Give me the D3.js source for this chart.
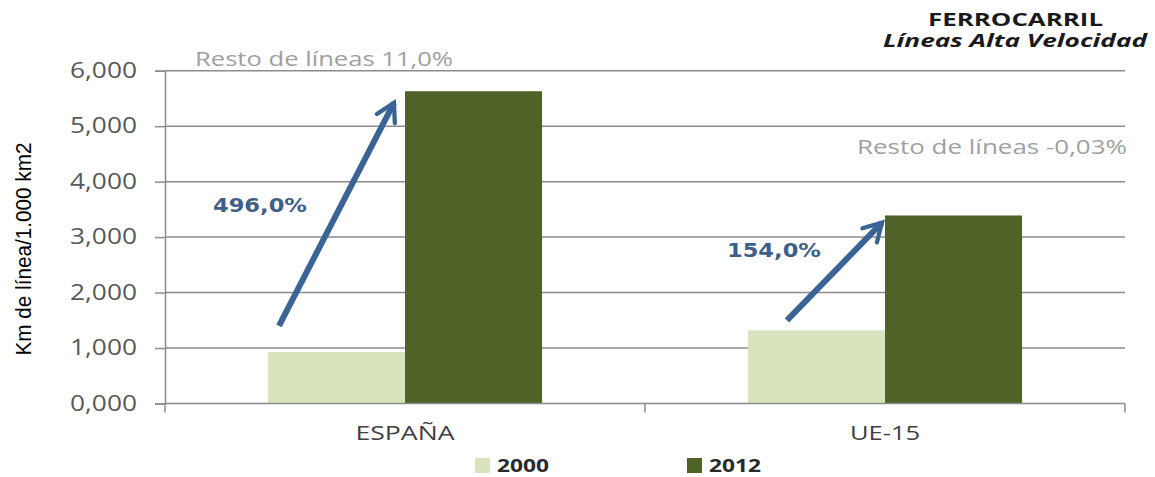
<!DOCTYPE html>
<html>
<head>
<meta charset="utf-8">
<script src="https://cdn.jsdelivr.net/npm/d3@7"></script>
<style>
  html, body { margin: 0; padding: 0; background: #fff; }
  svg { display: block; }
</style>
</head>
<body>
<div id="chart"></div>
<script>
// data (Km de línea / 1.000 km2)
const categories = ['ESPAÑA', 'UE-15'];
const years = ['2000', '2012'];
const values2000 = [0.93, 1.32];
const values2012 = [5.63, 3.39];
const growthLabels = ['496,0%', '154,0%'];
const restoLabels = ['Resto de líneas 11,0%', 'Resto de líneas -0,03%'];
const yTicks = [0, 1, 2, 3, 4, 5, 6];

// arrow annotations in data units: [start value, end value]
const arrowValues = [[1.40, 5.42], [1.50, 3.26]];

const width = 1155, height = 477;
const colors = { '2000': '#d7e4bd', '2012': '#4f6228' };
const arrowColor = '#3a6396';
const gridColor = '#8c8c8c';

const svg = d3.select('#chart').append('svg')
  .attr('width', width)
  .attr('height', height);

const plotLeft = 165, plotRight = 1125;

const y = d3.scaleLinear().domain([0, 6]).range([403.5, 70.7]);

const x = d3.scaleBand()
  .domain(categories)
  .range([plotLeft, plotRight])
  .paddingInner(0.429)
  .paddingOuter(0.2145);

const xInner = d3.scaleBand().domain(years).range([0, x.bandwidth()]);

const fmt = v => d3.format('.3f')(v).replace('.', ',');

// stretched text helper (source picture is wide-set)
function label(sel, len) {
  return sel.attr('textLength', len).attr('lengthAdjust', 'spacingAndGlyphs');
}

// gridlines
svg.append('g')
  .selectAll('line')
  .data(yTicks.filter(d => d > 0))
  .join('line')
  .attr('x1', plotLeft).attr('x2', plotRight)
  .attr('y1', d => y(d)).attr('y2', d => y(d))
  .attr('stroke', gridColor)
  .attr('stroke-width', 1.5);

// y axis
const yAxis = svg.append('g')
  .attr('transform', `translate(${plotLeft},0)`)
  .call(d3.axisLeft(y).tickValues(yTicks).tickFormat(fmt).tickSize(10).tickPadding(18));
yAxis.select('.domain').attr('stroke', gridColor).attr('stroke-width', 1.5);
yAxis.selectAll('.tick line').attr('stroke', gridColor).attr('stroke-width', 1.5);
yAxis.selectAll('.tick text')
  .attr('fill', '#595959')
  .attr('textLength', 67)
  .attr('lengthAdjust', 'spacingAndGlyphs')
  .style('font-family', '"Open Sans", sans-serif')
  .style('font-size', '21px');

// bars
const rows = categories.map((c, i) => ({ cat: c, vals: [values2000[i], values2012[i]] }));
const groups = svg.append('g').selectAll('g')
  .data(rows)
  .join('g')
  .attr('transform', d => `translate(${x(d.cat)},0)`);

groups.selectAll('rect')
  .data(d => years.map((yr, j) => ({ yr, v: d.vals[j] })))
  .join('rect')
  .attr('x', d => xInner(d.yr))
  .attr('width', xInner.bandwidth())
  .attr('y', d => y(d.v))
  .attr('height', d => y(0) - y(d.v))
  .attr('fill', d => colors[d.yr]);

// x axis (baseline + ticks at band edges)
svg.append('line')
  .attr('x1', plotLeft).attr('x2', plotRight)
  .attr('y1', y(0)).attr('y2', y(0))
  .attr('stroke', gridColor).attr('stroke-width', 1.5);

const step = x.step();
const xTickPos = [plotLeft, plotLeft + step, plotRight];
svg.append('g').selectAll('line')
  .data(xTickPos)
  .join('line')
  .attr('x1', d => d).attr('x2', d => d)
  .attr('y1', y(0)).attr('y2', y(0) + 9)
  .attr('stroke', gridColor).attr('stroke-width', 1.5);

const catLen = [99, 70];
svg.append('g').selectAll('text')
  .data(categories)
  .join('text')
  .attr('x', d => x(d) + x.bandwidth() / 2)
  .attr('y', 440)
  .attr('text-anchor', 'middle')
  .attr('fill', '#404040')
  .attr('textLength', (d, i) => catLen[i])
  .attr('lengthAdjust', 'spacingAndGlyphs')
  .style('font-family', '"Open Sans", sans-serif')
  .style('font-size', '20px')
  .text(d => d);

// y axis title
label(svg.append('text'), 213)
  .attr('transform', 'translate(31,249) rotate(-90)')
  .attr('text-anchor', 'middle')
  .attr('fill', '#000')
  .style('font-family', '"Liberation Sans Narrow", "Liberation Sans", sans-serif')
  .style('font-size', '22px')
  .text('Km de línea/1.000 km2');

// title
label(svg.append('text'), 175)
  .attr('x', 1015.5).attr('y', 26)
  .attr('text-anchor', 'middle')
  .attr('fill', '#1a1a1a')
  .style('font-family', '"Open Sans", sans-serif')
  .style('font-weight', 'bold')
  .style('font-size', '17px')
  .text('FERROCARRIL');
label(svg.append('text'), 264)
  .attr('x', 1015).attr('y', 47)
  .attr('text-anchor', 'middle')
  .attr('fill', '#1a1a1a')
  .style('font-family', '"Open Sans", sans-serif')
  .style('font-weight', 'bold')
  .style('font-style', 'italic')
  .style('font-size', '17px')
  .text('Líneas Alta Velocidad');

// "Resto de líneas" notes
label(svg.append('text'), 258)
  .attr('x', 195).attr('y', 66)
  .attr('fill', '#a0a0a0')
  .style('font-family', '"Open Sans", sans-serif')
  .style('font-size', '20px')
  .text(restoLabels[0]);
label(svg.append('text'), 270)
  .attr('x', 1127).attr('y', 154)
  .attr('text-anchor', 'end')
  .attr('fill', '#a0a0a0')
  .style('font-family', '"Open Sans", sans-serif')
  .style('font-size', '20px')
  .text(restoLabels[1]);

// arrows
svg.append('defs').append('marker')
  .attr('id', 'head')
  .attr('viewBox', '0 0 10 10')
  .attr('refX', 8).attr('refY', 5)
  .attr('markerWidth', 4.2).attr('markerHeight', 4.2)
  .attr('orient', 'auto')
  .append('path')
  .attr('d', 'M1,1 L8,5 L1,9')
  .attr('fill', 'none')
  .attr('stroke', arrowColor)
  .attr('stroke-width', 1.7)
  .attr('stroke-linecap', 'round')
  .attr('stroke-linejoin', 'miter');

const arrowX = [[11, 126], [39, 134]]; // offsets inside each group band
svg.append('g').selectAll('line')
  .data(categories)
  .join('line')
  .attr('x1', (d, i) => x(d) + arrowX[i][0])
  .attr('y1', (d, i) => y(arrowValues[i][0]))
  .attr('x2', (d, i) => x(d) + arrowX[i][1])
  .attr('y2', (d, i) => y(arrowValues[i][1]))
  .attr('stroke', arrowColor)
  .attr('stroke-width', 6)
  .attr('marker-end', 'url(#head)');

// growth labels
const growthPos = [[-55, 3.45], [-21, 2.64]];
svg.append('g').selectAll('text')
  .data(categories)
  .join('text')
  .attr('x', (d, i) => x(d) + growthPos[i][0])
  .attr('y', (d, i) => y(growthPos[i][1]))
  .attr('fill', '#3f5f8a')
  .attr('textLength', 94)
  .attr('lengthAdjust', 'spacingAndGlyphs')
  .style('font-family', '"DejaVu Sans", sans-serif')
  .style('font-weight', 'bold')
  .style('font-size', '19px')
  .text((d, i) => growthLabels[i]);

// legend
const legend = svg.append('g').selectAll('g')
  .data(years)
  .join('g')
  .attr('transform', (d, i) => `translate(${475 + i * 212},458)`);
legend.append('rect')
  .attr('width', 15).attr('height', 15)
  .attr('fill', d => colors[d]);
legend.append('text')
  .attr('x', 22).attr('y', 14)
  .attr('fill', '#2a2a2a')
  .attr('textLength', 52)
  .attr('lengthAdjust', 'spacingAndGlyphs')
  .style('font-family', '"Open Sans", sans-serif')
  .style('font-weight', 'bold')
  .style('font-size', '18px')
  .text(d => d);
</script>
</body>
</html>
